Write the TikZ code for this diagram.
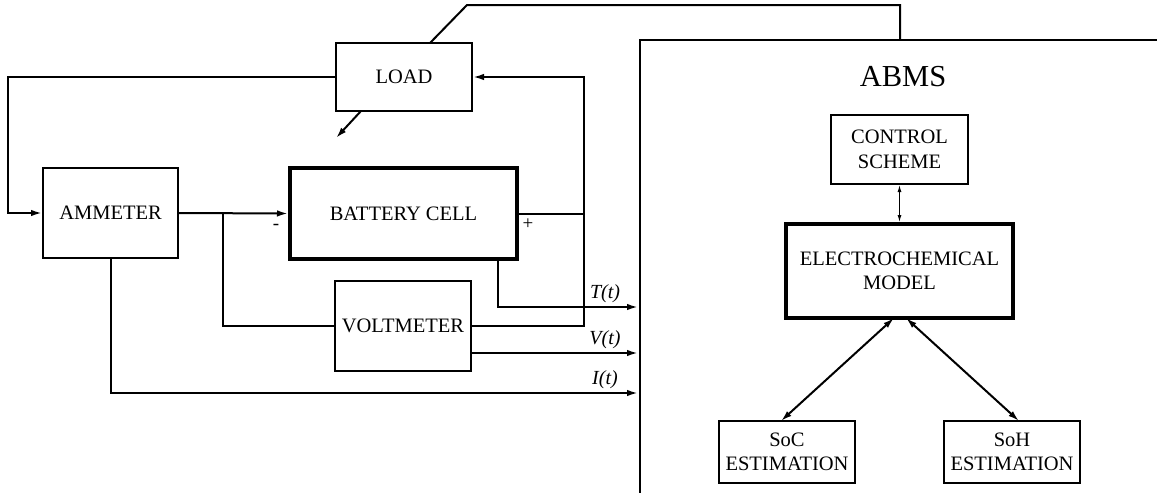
\documentclass[tikz,border=0pt]{standalone}
\usepackage{fontspec}
\setmainfont{Liberation Serif}
\usetikzlibrary{arrows.meta,calc}
\tikzset{
  blk/.style={draw, line width=2pt, inner sep=0pt, align=center, font=\fontsize{20.5}{24.5}\selectfont},
  thickblk/.style={blk, line width=4pt},
  wire/.style={line width=2pt},
  arr/.style={wire, -{Latex[length=11pt,width=6.5pt]}},
  darr/.style={line width=2pt, {Latex[length=11pt,width=6.5pt]}-{Latex[length=11pt,width=6.5pt]}},
  tarr/.style={line width=1pt, {Latex[length=7pt,width=4pt]}-{Latex[length=7pt,width=4pt]}},
  sig/.style={font=\fontsize{20}{22}\selectfont\itshape, anchor=south, inner sep=1pt},
  pol/.style={font=\fontsize{19}{20}\selectfont, inner sep=0pt}
}
\begin{document}
\begin{tikzpicture}[x=1pt,y=-1pt]
\useasboundingbox (0,0) rectangle (1157,493);

% blocks
\node[blk, minimum width=136pt, minimum height=68pt] (load) at (404,77) {LOAD};
\node[blk, minimum width=135pt, minimum height=90pt] (amm) at (110.5,213) {AMMETER};
\node[thickblk, minimum width=227pt, minimum height=91pt] (bat) at (403.5,213.5) {BATTERY CELL};
\node[blk, minimum width=136pt, minimum height=90pt] (volt) at (403,326) {VOLTMETER};
\node[blk, minimum width=137pt, minimum height=69pt] (ctrl) at (899.5,149.5) {CONTROL\\SCHEME};
\node[thickblk, minimum width=227pt, minimum height=94pt] (elec) at (899.5,271) {ELECTROCHEMICAL\\MODEL};
\node[blk, minimum width=136pt, minimum height=62pt] (soc) at (787,452) {SoC\\ESTIMATION};
\node[blk, minimum width=136pt, minimum height=62pt] (soh) at (1012,452) {SoH\\ESTIMATION};

% ABMS frame
\coordinate (ftl) at (640,40);
\coordinate (ftr) at (1157,40);
\coordinate (fbl) at (640,493);
\draw[wire] (ftr) -- (ftl) -- (fbl);
\node[font=\fontsize{30.5}{32}\selectfont] (abms) at (903,77) {ABMS};

% coordinates
\coordinate (lft) at (8,77);
\coordinate (rgt) at (584,77);
\coordinate (jn) at (223,213);
\coordinate (ldA) at (361,111);
\coordinate (ldB) at (336,138);
\coordinate (tA) at (430,43);
\coordinate (tB) at (467,5);
\coordinate (tC) at (900,5);
\coordinate (tD) at (900,40);
\coordinate (tS) at (498,259);
\coordinate (tE) at (638,307);
\coordinate (vS) at (471,353);
\coordinate (vE) at (638,353);
\coordinate (iE) at (638,393);
\coordinate (eL) at (894,318);
\coordinate (eR) at (906,318);
\coordinate (socT) at (781,421);
\coordinate (sohT) at (1019,421);

% connectors
\draw[arr] (load.west) -- (lft) |- (amm.west);
\draw[arr] (amm.east) -- (bat.west);
\draw[wire] (jn) |- (volt.west);
\draw[wire] (bat.east) -- (bat.east -| rgt);
\draw[arr] (volt.east) -| (rgt) -- (load.east);
\draw[arr] (ldA) -- (ldB);
\draw[wire] (tA) -- (tB) -- (tC) -- (tD);
\draw[arr] (tS) |- (tE);
\draw[arr] (vS) -- (vE);
\draw[arr] (amm.south) |- (iE);

\node[sig] (tl) at (605,304) {T(t)};
\node[sig] (vl) at (605,350) {V(t)};
\node[sig] (il) at (605,390) {I(t)};
\node[pol] (minus) at (276,227) {-};
\node[pol] (plus) at (528,224) {+};

\draw[tarr] (ctrl.south) -- (elec.north);
\draw[darr] (eL) -- (socT);
\draw[darr] (eR) -- (sohT);
\end{tikzpicture}
\end{document}
